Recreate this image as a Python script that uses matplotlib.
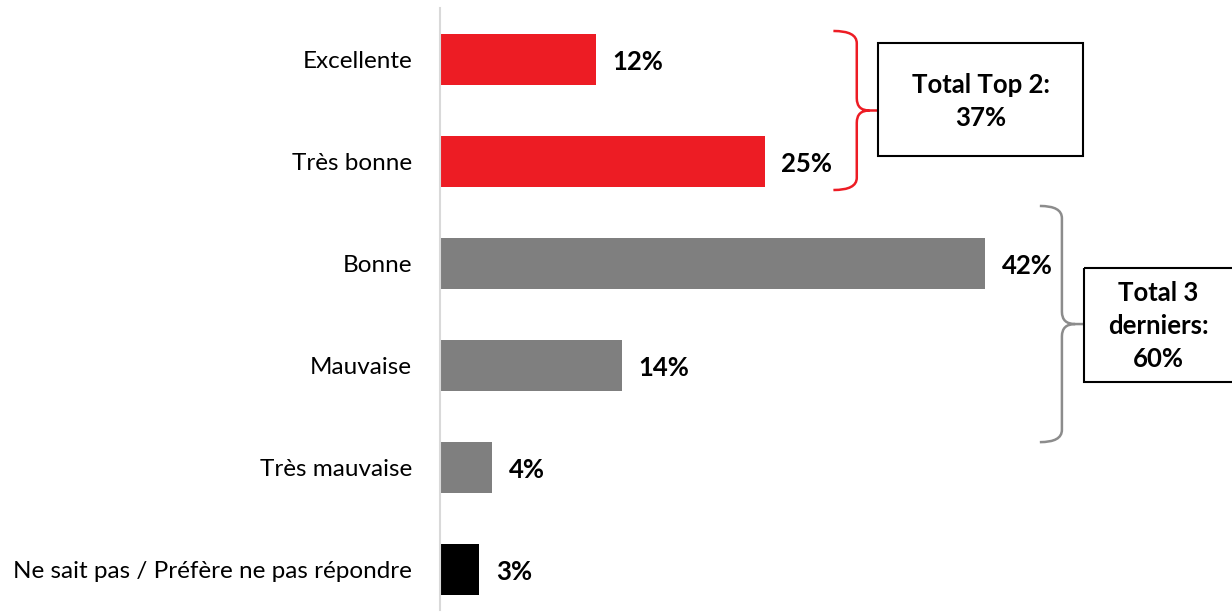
import matplotlib.pyplot as plt
from matplotlib.path import Path
from matplotlib.patches import PathPatch, Rectangle

categories = ['Excellente', 'Très bonne', 'Bonne', 'Mauvaise', 'Très mauvaise',
              'Ne sait pas / Préfère ne pas répondre']
values = [12, 25, 42, 14, 4, 3]
colors = ['#ED1C24', '#ED1C24', '#7F7F7F', '#7F7F7F', '#7F7F7F', '#000000']

top2_label = 'Total Top 2:\n37%'
bottom3_label = 'Total 3\nderniers:\n60%'

plt.rcParams['font.family'] = ['Lato', 'DejaVu Sans']

fig = plt.figure(figsize=(12.32, 6.16), dpi=100)
ax = fig.add_axes([440 / 1232, 6 / 616, 792 / 1232, 602 / 616])

y = list(range(len(categories)))
ax.barh(y, values, height=0.5, color=colors)
ax.set_xlim(0, 61.0)
ax.set_ylim(5.4, -0.5)

for i, v in enumerate(values):
    ax.text(v + 1.3, i + 0.03, '%d%%' % v, ha='left', va='center',
            fontsize=18.5, fontweight='bold', color='black')

ax.set_yticks(y)
ax.set_yticklabels(categories, fontsize=17.5)
ax.tick_params(axis='y', length=0, pad=20)
ax.set_xticks([])
for s in ['top', 'right', 'bottom']:
    ax.spines[s].set_visible(False)
ax.spines['left'].set_color('#D9D9D9')
ax.spines['left'].set_linewidth(1.5)


def brace(x0, x1, xt, y0, y1, color, r=0.12):
    ym = (y0 + y1) / 2
    verts = [(x0, y0), (x1, y0), (x1, y0 + r),
             (x1, ym - r),
             (x1, ym), (xt - (xt - x1) * 0.4, ym),
             (xt, ym),
             (xt - (xt - x1) * 0.4, ym), (x1, ym), (x1, ym + r),
             (x1, y1 - r),
             (x1, y1), (x0, y1)]
    codes = [Path.MOVETO, Path.CURVE3, Path.CURVE3,
             Path.LINETO,
             Path.CURVE3, Path.CURVE3,
             Path.LINETO,
             Path.MOVETO, Path.CURVE3, Path.CURVE3,
             Path.LINETO,
             Path.CURVE3, Path.CURVE3]
    ax.add_patch(PathPatch(Path(verts, codes), fill=False, edgecolor=color,
                           linewidth=1.8, clip_on=False))


brace(30.3, 32.1, 33.7, -0.275, 1.284, '#ED1C24')
brace(46.2, 47.9, 49.6, 1.44, 3.755, '#8C8C8C')

ax.add_patch(Rectangle((33.74, -0.157), 15.8, 1.108, fill=False,
                       edgecolor='black', linewidth=1.5, clip_on=False))
ax.text(33.74 + 7.9, -0.157 + 0.57, top2_label, ha='center', va='center',
        fontsize=18.5, fontweight='bold', linespacing=1.45)

ax.add_patch(Rectangle((49.6, 2.049), 12.0, 1.118, fill=False,
                       edgecolor='black', linewidth=1.5, clip_on=False))
ax.text(55.3, 2.049 + 0.57, bottom3_label, ha='center', va='center',
        fontsize=18.5, fontweight='bold', linespacing=1.45)

plt.savefig('out.png', dpi=100)
